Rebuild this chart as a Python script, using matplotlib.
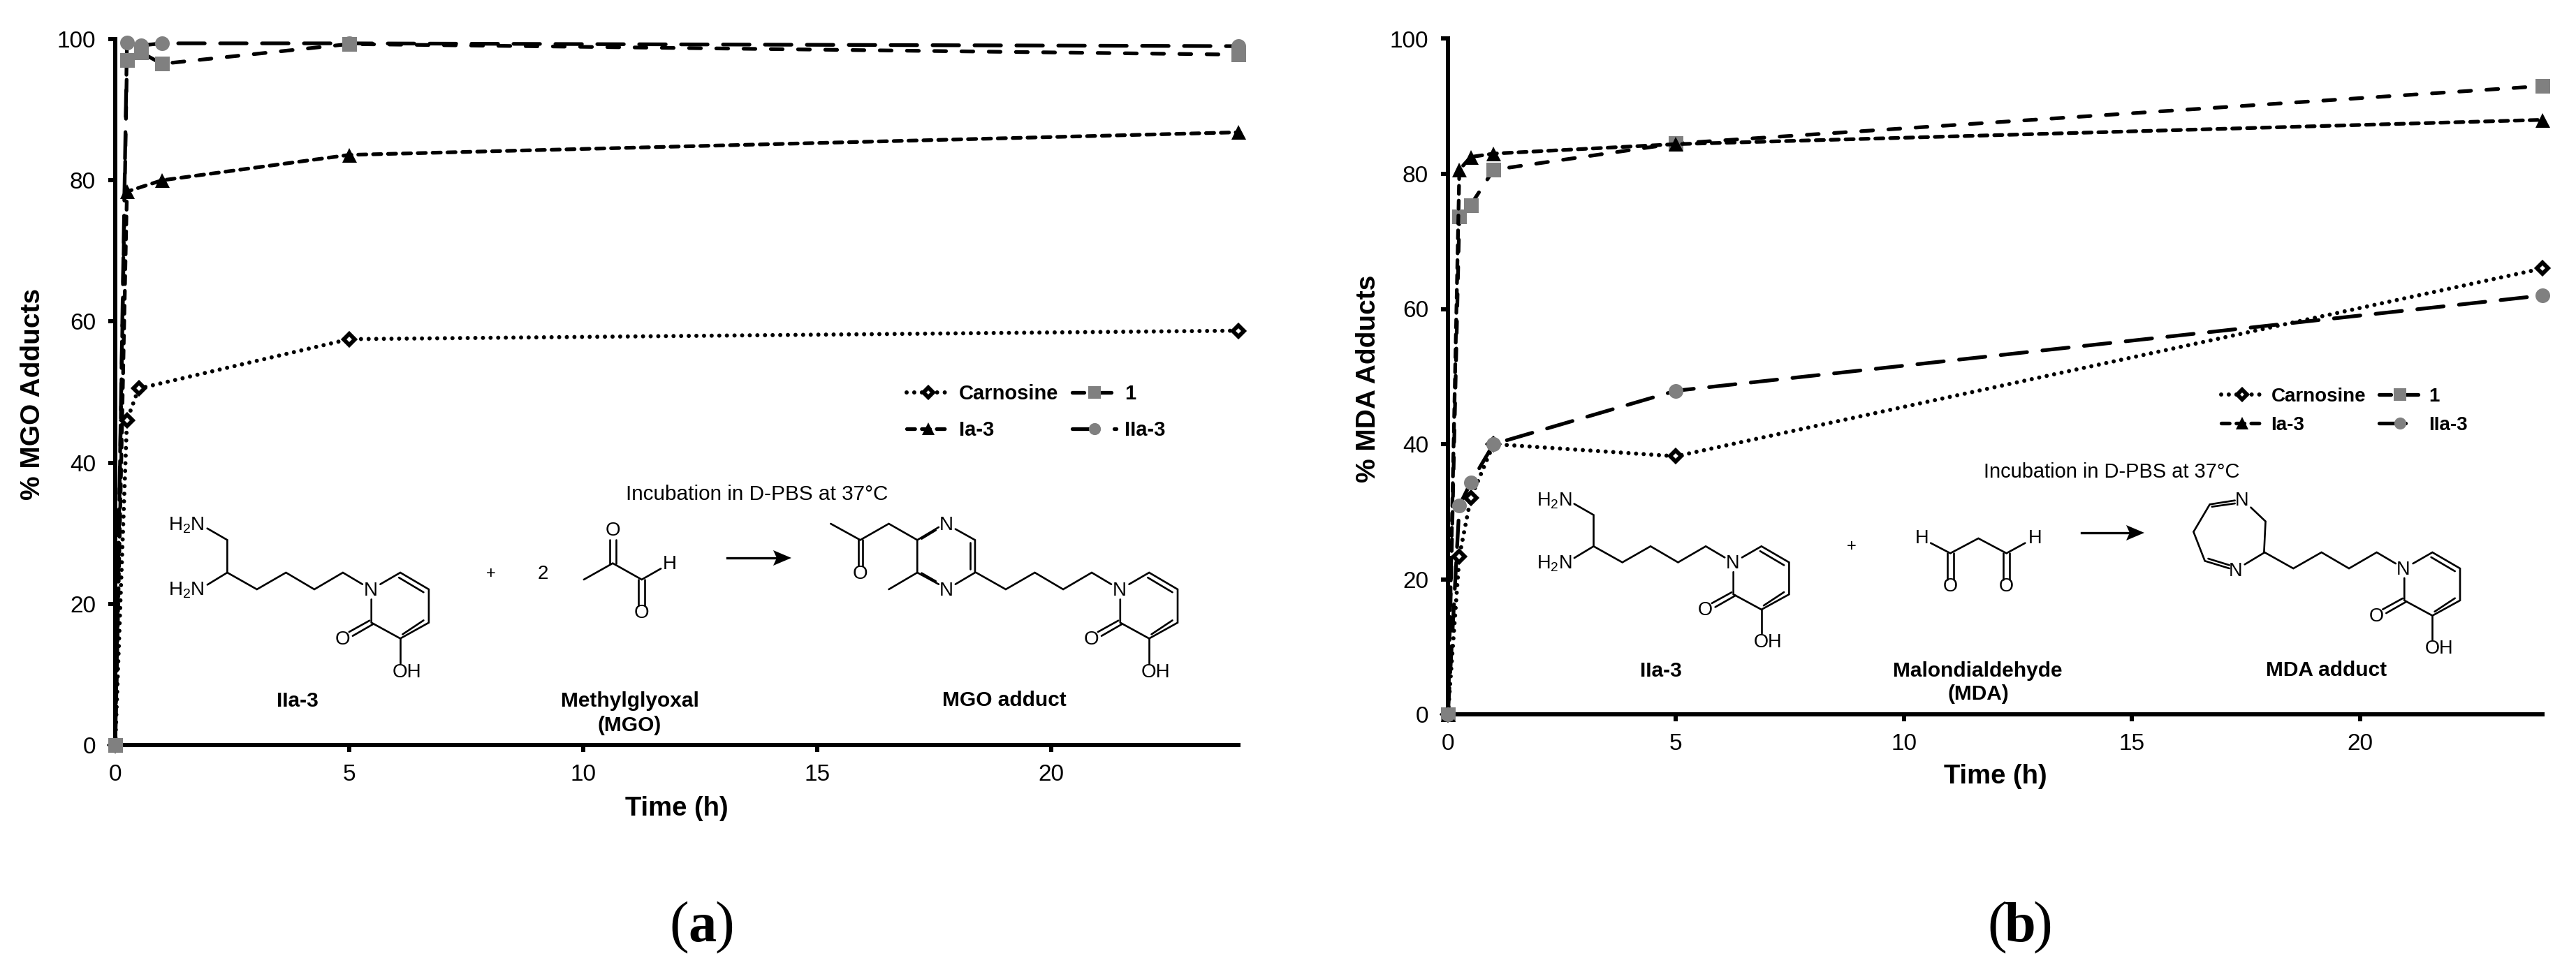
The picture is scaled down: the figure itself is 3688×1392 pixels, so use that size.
import matplotlib
matplotlib.use("Agg")
import matplotlib.pyplot as plt
from matplotlib.lines import Line2D

plt.rcParams['font.family'] = ['Liberation Sans', 'DejaVu Sans']
plt.rcParams['mathtext.default'] = 'regular'
plt.rcParams['lines.scale_dashes'] = False

W, H = 3688, 1392
PX = 0.72  # points per pixel at dpi 100

# ---------- data ----------
series_names = ['Carnosine', '1', 'Ia-3', 'IIa-3']
x_ticks = [0, 5, 10, 15, 20]
y_ticks = [0, 20, 40, 60, 80, 100]

mgo_carnosine_t = [0, 0.25, 0.5, 5, 24]
mgo_carnosine = [0, 46, 50.5, 57.5, 58.7]
mgo_1_t = [0, 0.25, 0.55, 1, 5, 24]
mgo_1 = [0, 97, 98.1, 96.5, 99.3, 97.8]
mgo_ia3_t = [0, 0.25, 1, 5, 24]
mgo_ia3 = [0, 78.4, 80, 83.6, 86.8]
mgo_iia3_t = [0, 0.25, 0.55, 1, 5, 24]
mgo_iia3 = [0, 99.5, 99.1, 99.4, 99.4, 99.0]

mda_carnosine_t = [0, 0.25, 0.5, 1, 5, 24]
mda_carnosine = [0, 23.4, 32, 40, 38.2, 66]
mda_1_t = [0, 0.25, 0.5, 1, 5, 24]
mda_1 = [0, 73.7, 75.4, 80.6, 84.5, 93]
mda_ia3_t = [0, 0.25, 0.5, 1, 5, 24]
mda_ia3 = [0, 80.6, 82.5, 83, 84.4, 88]
mda_iia3_t = [0, 0.25, 0.5, 1, 5, 24]
mda_iia3 = [0, 30.9, 34.3, 40, 47.9, 62]

# ---------- styles ----------
LW = 3.8
GREY = '#808080'
STYLES = {
    'Carnosine': dict(ls=(0, (0.01, 10.9 * PX)), lw=4.3, marker='D', ms=8.2, mfc='white',
                      mec='black', mew=4.2, color='black', dash_capstyle='round'),
    '1': dict(ls=(0, (17 * PX, 22 * PX)), lw=LW, marker='s', ms=21 * PX, mfc=GREY, mec=GREY,
              mew=0, color='black', dash_capstyle='round'),
    'Ia-3': dict(ls=(0, (11.7 * PX, 9.6 * PX)), lw=LW, marker='^', ms=21 * PX, mfc='black',
                 mec='black', mew=0, color='black', dash_capstyle='round'),
    'IIa-3': dict(ls=(0, (38 * PX, 22 * PX)), lw=LW, marker='o', ms=21 * PX, mfc=GREY, mec=GREY,
                  mew=0, color='black', dash_capstyle='round'),
}

fig = plt.figure(figsize=(W / 100, H / 100), dpi=100, facecolor='white')


def make_axes(x0, x1, ytop, ybot, ylabel, xlab_y, ylab_x, ylab_y):
    ax = fig.add_axes([x0 / W, 1 - ybot / H, (x1 - x0) / W, (ybot - ytop) / H])
    ax.set_xlim(0, 24)
    ax.set_ylim(0, 100)
    ax.patch.set_alpha(0)
    for s in ('top', 'right'):
        ax.spines[s].set_visible(False)
    for s in ('left', 'bottom'):
        ax.spines[s].set_linewidth(6 * PX)
    ax.set_xticks(x_ticks)
    ax.set_yticks(y_ticks)
    ax.tick_params(axis='both', direction='out', length=10 * PX, width=6 * PX, labelsize=24)
    ax.tick_params(axis='y', pad=13)
    ax.tick_params(axis='x', pad=12)
    ax.set_xlabel('Time (h)', fontsize=27.5, fontweight='bold', va='center')
    ax.xaxis.set_label_coords(0.5, -(xlab_y - ybot) / (ybot - ytop))
    ax.set_ylabel(ylabel, fontsize=28, fontweight='bold', va='center')
    ax.yaxis.set_label_coords(-(x0 - ylab_x) / (x1 - x0), (ybot - ylab_y) / (ybot - ytop))
    return ax


def draw_series(ax, name, t, v):
    ax.plot(t, v, clip_on=False, zorder=3, **STYLES[name])


def legend(ax, xleft, ycenter, size, labelspacing):
    hs = {n: Line2D([], [], **STYLES[n]) for n in series_names}
    order = ['Carnosine', 'Ia-3', '1', 'IIa-3']
    for h in hs.values():
        h.set_markersize(h.get_markersize() * 0.82)
    ax.legend([hs[n] for n in order], order, ncol=2, frameon=False, numpoints=1,
              prop=dict(size=size, weight='bold'),
              loc='center left', bbox_to_anchor=(xleft / W, 1 - ycenter / H),
              bbox_transform=fig.transFigure, borderpad=0, borderaxespad=0,
              handlelength=2.15, handletextpad=0.42, columnspacing=0.68,
              labelspacing=labelspacing)


axa = make_axes(165, 1773, 56, 1067, '% MGO Adducts', 1158, 47, 564)
draw_series(axa, 'Carnosine', mgo_carnosine_t, mgo_carnosine)
draw_series(axa, 'Ia-3', mgo_ia3_t, mgo_ia3)
draw_series(axa, 'IIa-3', mgo_iia3_t, mgo_iia3)
draw_series(axa, '1', mgo_1_t, mgo_1)
legend(axa, 1298, 590, 21, 0.82)

axb = make_axes(2073, 3640, 55.5, 1023, '% MDA Adducts', 1112, 1959, 542)
draw_series(axb, 'Carnosine', mda_carnosine_t, mda_carnosine)
draw_series(axb, '1', mda_1_t, mda_1)
draw_series(axb, 'Ia-3', mda_ia3_t, mda_ia3)
draw_series(axb, 'IIa-3', mda_iia3_t, mda_iia3)
legend(axb, 3180, 588.5, 20, 0.55)

# ---------- reaction schemes drawn in pixel coordinates ----------
ov = fig.add_axes([0, 0, 1, 1], zorder=10)
ov.set_xlim(0, W)
ov.set_ylim(H, 0)
ov.axis('off')
BL = 1.9


def bond(pts, tf=lambda x, y: (x, y)):
    p = [tf(*q) for q in pts]
    ov.plot([a[0] for a in p], [a[1] for a in p], color='black', lw=BL,
            solid_capstyle='round', solid_joinstyle='miter')


def atom(x, y, s, size=20):
    ov.text(x, y, s, ha='center', va='center', fontsize=size, color='black')


def bold(x, y, s, size=21.5):
    ov.text(x, y, s, ha='center', va='center', fontsize=size, fontweight='bold', color='black')


def arrow(x0, x1, y):
    ov.plot([x0, x1 - 10], [y, y], color='black', lw=2.4)
    ov.fill([x1 - 26, x1, x1 - 26, x1 - 21], [y - 11, y, y + 11, y], color='black', lw=0)


def tail(ox, oy, sx=1.0, sy=1.0, size=20):
    t = lambda x, y: (ox + sx * x, oy + sy * y)
    bond([(-11.5, -9), (-39.5, -25.7), (-80.4, -1.7), (-121, -25.7), (-162.6, -1.7), (-205, -25.7)], t)
    bond([(14, -9), (42.7, -25.7), (83.5, -1.7), (83.5, 46), (42.7, 68.7), (1.3, 46), (1.3, 12.7)], t)
    bond([(40.8, -18.5), (76, 2.5)], t)
    bond([(76, 42.7), (46, 62.7)], t)
    bond([(-1.3, 43), (-30.6, 59.3)], t)
    bond([(4.5, 47.7), (-25.5, 65)], t)
    bond([(42.7, 68.7), (42.7, 104)], t)
    atom(*t(0, 0), 'N', size)
    atom(*t(-40, 70), 'O', size)
    atom(*t(52.3, 117.7), 'OH', size)


def amines(ox, oy, sx=1.0, sy=1.0, size=20):
    t = lambda x, y: (ox + sx * x, oy + sy * y)
    bond([(-233.7, -89), (-205, -72.4), (-205, -25.7), (-233.5, -8.3)], t)
    atom(*t(-263.4, -93.3), 'H$_2$N', size)
    atom(*t(-263.4, 0), 'H$_2$N', size)


# panel (a)
tail(530.4, 845.7)
amines(530.4, 845.7)
bold(426, 1004, 'IIa-3')
z2 = lambda X, Y: (200 + X / 1.568, 580 + Y / 3)
atom(*z2(788, 727), '+', 17)
atom(*z2(905, 727), '2', 20)
bond([(997, 750), (1062, 680), (1127, 750), (1170, 703)], z2)
bond([(1055, 680), (1055, 578)], z2)
bond([(1069, 680), (1069, 578)], z2)
bond([(1120, 750), (1120, 862)], z2)
bond([(1134, 750), (1134, 862)], z2)
atom(*z2(1062, 540), 'O')
atom(*z2(1127, 893), 'O')
atom(*z2(1190, 683), 'H')
bold(901.5, 1004, 'Methylglyoxal')
bold(901.5, 1039, '(MGO)')
arrow(1041, 1133, 799)
ov.text(1084, 708, 'Incubation in D-PBS at 37°C', ha='center', va='center', fontsize=21.4)

tail(1602.5, 845.7)
z3 = lambda X, Y: (1100 + X / 1.96, 580 + Y / 3)
bond([(580, 720), (580, 580), (525, 533)], z3)
bond([(567, 705), (567, 590)], z3)
bond([(478, 525), (418, 580), (418, 720), (478, 770)], z3)
bond([(470, 538), (430, 575)], z3)
bond([(430, 722), (470, 757)], z3)
bond([(525, 770), (580, 720)], z3)
bond([(418, 720), (338, 792)], z3)
bond([(418, 580), (338, 510), (258, 580), (175, 510)], z3)
bond([(252, 580), (252, 690)], z3)
bond([(264, 580), (264, 690)], z3)
atom(*z3(500, 515), 'N')
atom(*z3(500, 797), 'N')
atom(*z3(258, 725), 'O')
bold(1438, 1003, 'MGO adduct')

# panel (b)
tail(2480.4, 807, 0.97, 0.96, 19.5)
amines(2480.4, 807, 0.97, 0.96, 19.5)
bold(2378, 961, 'IIa-3')
z4 = lambda X, Y: (2150 + X / 1.568, 600 + Y / 3)
atom(*z4(785, 550), '+', 17)
bond([(963, 533), (1007, 577), (1070, 513), (1133, 577), (1175, 533)], z4)
for X in (1000, 1014, 1126, 1140):
    bond([(X, 577), (X, 690)], z4)
atom(*z4(943, 513), 'H', 19.5)
atom(*z4(1197, 513), 'H', 19.5)
atom(*z4(1007, 720), 'O', 19.5)
atom(*z4(1133, 720), 'O', 19.5)
bold(2831, 961, 'Malondialdehyde')
bold(2832, 994, '(MDA)')
arrow(2980, 3070, 763)
ov.text(3023, 676, 'Incubation in D-PBS at 37°C', ha='center', va='center', fontsize=20.9)

tail(3441, 815.7, 0.97, 0.96, 19.5)
z6 = lambda X, Y: (3000 + X / 2.279, 560 + Y / 3)
bond([(550, 695), (555, 560), (507, 500)], z6)
bond([(455, 470), (373, 487), (320, 605), (357, 730), (437, 762)], z6)
bond([(455, 483), (380, 497)], z6)
bond([(368, 720), (437, 748)], z6)
bond([(487, 745), (550, 695)], z6)
atom(*z6(478, 470), 'N', 19.5)
atom(*z6(458, 775), 'N', 19.5)
bold(3331, 960, 'MDA adduct')

# panel letters
SERIF = ['Liberation Serif', 'DejaVu Serif']
for cx, letter in ((1004, 'a'), (2891, 'b')):
    ov.text(cx - 32, 1348, '(', family=SERIF, fontsize=60, ha='center', va='baseline')
    ov.text(cx + 1, 1348, letter, family=SERIF, fontsize=58, fontweight='bold', ha='center', va='baseline')
    ov.text(cx + 33, 1348, ')', family=SERIF, fontsize=60, ha='center', va='baseline')

fig.savefig('out.png', dpi=100, facecolor='white')
